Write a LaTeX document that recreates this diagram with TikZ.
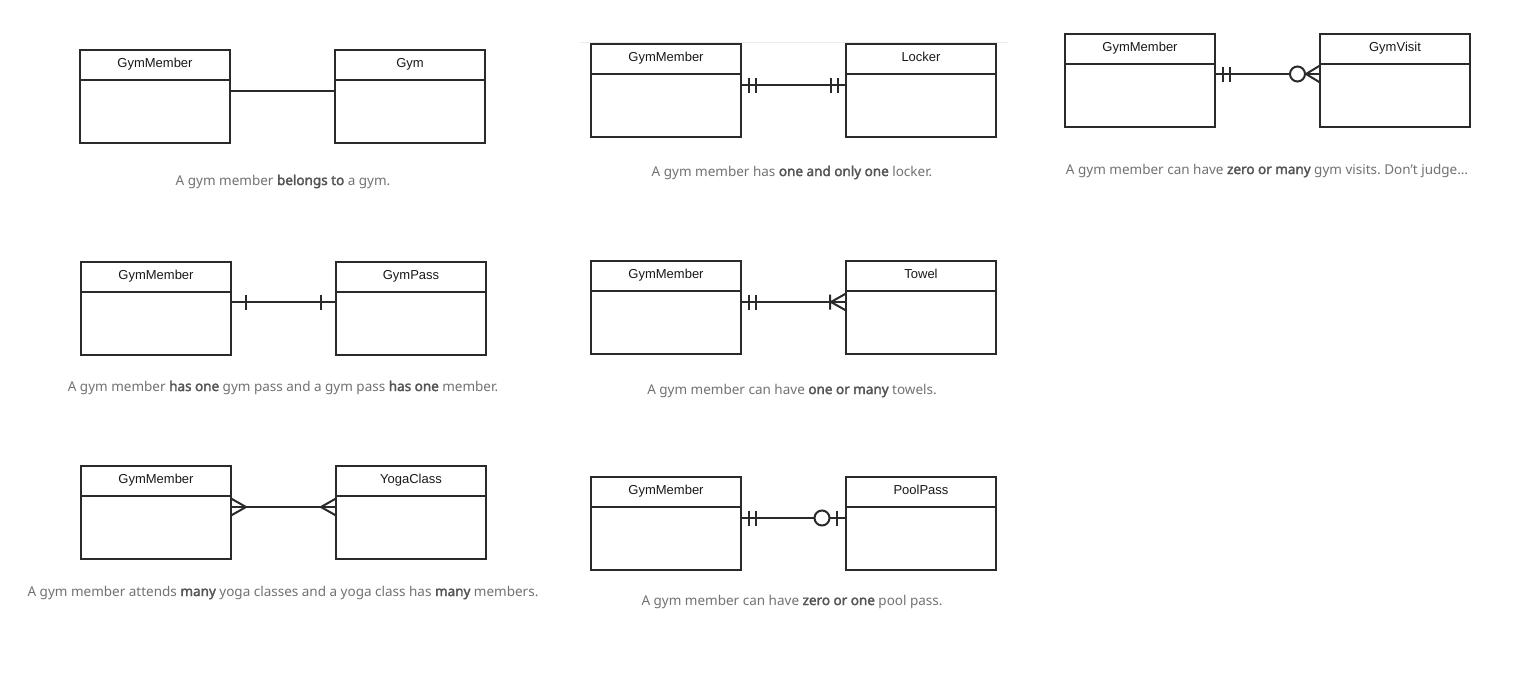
\documentclass[tikz,border=0pt]{standalone}
\usepackage{fontspec}
\setmainfont{Liberation Sans}
\newfontfamily\capfont{Noto Sans}[AutoFakeBold=2.2]
\usetikzlibrary{calc}
\frenchspacing

\definecolor{edge}{HTML}{2A2A2A}
\definecolor{captxt}{HTML}{727272}
\definecolor{capbold}{HTML}{555555}

\tikzset{
  entity/.style={draw=edge, line width=2pt, fill=white,
    minimum width=150pt, minimum height=93pt, inner sep=0pt, outer sep=0pt},
  sep/.style={draw=edge, line width=2pt},
  link/.style={draw=edge, line width=2pt},
  title/.style={font=\fontsize{13}{15}\selectfont, text=black!90, inner sep=0pt},
  caption/.style={font=\capfont\fontsize{13.5}{16}\selectfont, text=captxt, inner sep=0pt},
  % end marks, drawn at the entity border, pointing along +x
  erone/.pic={\draw[link] (15,-7.5) -- (15,7.5);},
  ertwo/.pic={\draw[link] (8,-7.5) -- (8,7.5) (15,-7.5) -- (15,7.5);},
  ercrow/.pic={\draw[link] (0,-8.5) -- (15,0) -- (0,8.5);},
  ercrowbar/.pic={\draw[link] (0,-8.5) -- (15,0) -- (0,8.5) (16,-7.5) -- (16,7.5);},
  ercircbar/.pic={\draw[link] (9,-7.5) -- (9,7.5);
                  \draw[link, fill=white] (24,0) circle (7.5);},
  ercirccrow/.pic={\draw[link] (0,-8.5) -- (14,0) -- (0,8.5);
                   \draw[link, fill=white] (22.5,0) circle (7.5);},
}

\newcommand\erentity[4]{% name, left, top, title
  \node[entity, anchor=north west] (#1) at (#2,#3) {};
  \draw[sep] ($(#1.north west)+(0,30)$) -- ($(#1.north east)+(0,30)$);
  \node[title, anchor=base] (#1-t) at ($(#1.north)+(0,17.5)$) {#4};
}
\newcommand\capb[1]{\textbf{\color{capbold}#1}}

\begin{document}
\begin{tikzpicture}[x=1pt, y=-1pt]
  \useasboundingbox[fill=white] (0,0) rectangle (1518,680);

  % faint rule above the second diagram
  \draw[black!8, line width=0.8pt] (580,42) -- (1008,42);

  % belongs to
  \erentity{m1}{80}{50}{GymMember}
  \erentity{e1}{335}{50}{Gym}
  \coordinate (l1) at ($(m1.east)+(0,-5.5)$);
  \coordinate (r1) at ($(e1.west)+(0,-5.5)$);
  \draw[link] (l1) -- (r1);
  \node[caption, anchor=base] (c1) at (283,185)
    {A gym member \capb{belongs to} a gym.};

  % one and only one
  \erentity{m2}{591}{44}{GymMember}
  \erentity{e2}{846}{44}{Locker}
  \coordinate (l2) at ($(m2.east)+(0,-5.5)$);
  \coordinate (r2) at ($(e2.west)+(0,-5.5)$);
  \draw[link] (l2) -- (r2);
  \pic at (l2) {ertwo};
  \pic[xscale=-1] at (r2) {ertwo};
  \node[caption, anchor=base] (c2) at (792,176)
    {A gym member has \capb{one and only one} locker.};

  % zero or many
  \erentity{m3}{1065}{34}{GymMember}
  \erentity{e3}{1320}{34}{GymVisit}
  \coordinate (l3) at ($(m3.east)+(0,-6.5)$);
  \coordinate (r3) at ($(e3.west)+(0,-6.5)$);
  \draw[link] (l3) -- (r3);
  \pic at (l3) {ertwo};
  \pic[xscale=-1] at (r3) {ercirccrow};
  \node[caption, anchor=base] (c3) at (1267,174)
    {A gym member can have \capb{zero or many} gym visits. Don’t judge\ldots};

  % has one
  \erentity{m4}{81}{262}{GymMember}
  \erentity{e4}{336}{262}{GymPass}
  \coordinate (l4) at ($(m4.east)+(0,-6.5)$);
  \coordinate (r4) at ($(e4.west)+(0,-6.5)$);
  \draw[link] (l4) -- (r4);
  \pic at (l4) {erone};
  \pic[xscale=-1] at (r4) {erone};
  \node[caption, anchor=base] (c4) at (283,391)
    {A gym member \capb{has one} gym pass and a gym pass \capb{has one} member.};

  % one or many
  \erentity{m5}{591}{261}{GymMember}
  \erentity{e5}{846}{261}{Towel}
  \coordinate (l5) at ($(m5.east)+(0,-5.5)$);
  \coordinate (r5) at ($(e5.west)+(0,-5.5)$);
  \draw[link] (l5) -- (r5);
  \pic at (l5) {ertwo};
  \pic[xscale=-1] at (r5) {ercrowbar};
  \node[caption, anchor=base] (c5) at (792,394)
    {A gym member can have \capb{one or many} towels.};

  % many to many
  \erentity{m6}{81}{466}{GymMember}
  \erentity{e6}{336}{466}{YogaClass}
  \coordinate (l6) at ($(m6.east)+(0,-5.5)$);
  \coordinate (r6) at ($(e6.west)+(0,-5.5)$);
  \draw[link] (l6) -- (r6);
  \pic at (l6) {ercrow};
  \pic[xscale=-1] at (r6) {ercrow};
  \node[caption, anchor=base] (c6) at (283,596)
    {A gym member attends \capb{many} yoga classes and a yoga class has \capb{many} members.};

  % zero or one
  \erentity{m7}{591}{477}{GymMember}
  \erentity{e7}{846}{477}{PoolPass}
  \coordinate (l7) at ($(m7.east)+(0,-5.5)$);
  \coordinate (r7) at ($(e7.west)+(0,-5.5)$);
  \draw[link] (l7) -- (r7);
  \pic at (l7) {ertwo};
  \pic[xscale=-1] at (r7) {ercircbar};
  \node[caption, anchor=base] (c7) at (792,605)
    {A gym member can have \capb{zero or one} pool pass.};
\end{tikzpicture}
\end{document}
